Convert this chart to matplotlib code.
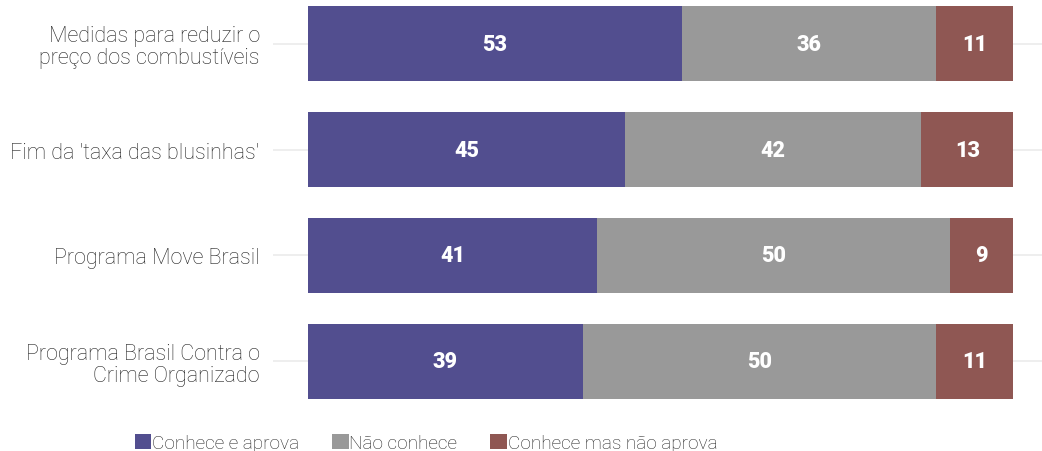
import matplotlib
matplotlib.use('Agg')
import matplotlib.pyplot as plt

# dados
categorias = ['Medidas para reduzir o\npreço dos combustíveis', "Fim da 'taxa das blusinhas'",
              'Programa Move Brasil', 'Programa Brasil Contra o\nCrime Organizado']
aprova = [53, 45, 41, 39]
nao_conhece = [36, 42, 50, 50]
nao_aprova = [11, 13, 9, 11]
series = ['Conhece e aprova', 'Não conhece', 'Conhece mas não aprova']
cores = ['#524E8F', '#999999', '#8F5753']

plt.rcParams['font.family'] = ['Roboto', 'DejaVu Sans']

fig = plt.figure(figsize=(10.42, 4.52), dpi=100)
ax = fig.add_axes([273 / 1042, 52 / 452, 1 - 273 / 1042, 393 / 452])

y = list(range(len(categorias)))
left = [0] * len(categorias)
for valores, nome, cor in zip([aprova, nao_conhece, nao_aprova], series, cores):
    barras = ax.barh(y, valores, left=left, height=0.71, color=cor, label=nome, zorder=2)
    for b, v in zip(barras, valores):
        ax.text(b.get_x() + b.get_width() / 2, b.get_y() + b.get_height() / 2, str(v),
                ha='center', va='center', color='white', fontsize=15.5, fontweight='heavy', zorder=3)
    left = [l + v for l, v in zip(left, valores)]

ax.set_xlim(-4.96, 104.1)
ax.set_ylim(3.355, -0.355)
ax.set_yticks(y)
ax.set_yticklabels(categorias, fontsize=15.5, fontweight='light', color='#222222',
                   linespacing=1.05)
ax.tick_params(axis='y', length=0, pad=9.5)
ax.set_xticks([])
ax.grid(axis='y', color='#EBEBEB', linewidth=1.2, zorder=0)
for s in ax.spines.values():
    s.set_visible(False)

leg = fig.legend(loc='lower center', bbox_to_anchor=(0.409, -0.04), ncol=3, frameon=False,
                 fontsize=13.7, handlelength=0.85, handleheight=0.85, handletextpad=0.05,
                 columnspacing=1.73)
for t in leg.get_texts():
    t.set_color('#222222')
    t.set_fontweight('light')

fig.savefig('out.png', dpi=100)
